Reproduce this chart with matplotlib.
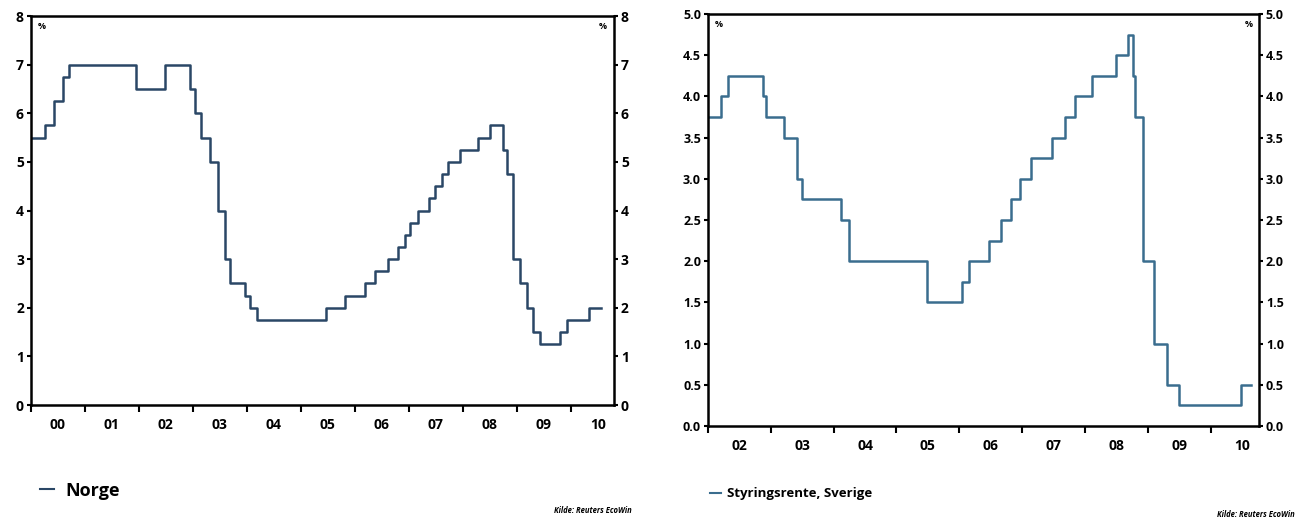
import matplotlib
matplotlib.use("Agg")
import matplotlib.pyplot as plt
from matplotlib.lines import Line2D
import numpy as np

plt.rcParams['font.family'] = ['Open Sans', 'DejaVu Sans']
plt.rcParams['font.weight'] = 'bold'

# Norway: policy rate, step starts (decimal year) and level
norge_start = [2000.00, 2000.26, 2000.43, 2000.59, 2000.70, 2001.94, 2002.48,
               2002.94, 2003.04, 2003.15, 2003.31, 2003.46, 2003.59, 2003.69,
               2003.96, 2004.06, 2004.19, 2005.46, 2005.81, 2006.19, 2006.37,
               2006.61, 2006.80, 2006.93, 2007.02, 2007.17, 2007.37, 2007.48,
               2007.61, 2007.72, 2007.94, 2008.28, 2008.50, 2008.74, 2008.81,
               2008.93, 2009.06, 2009.19, 2009.30, 2009.43, 2009.80, 2009.93,
               2010.33]
norge_rate = [5.5, 5.75, 6.25, 6.75, 7.0, 6.5, 7.0, 6.5, 6.0, 5.5, 5.0, 4.0,
              3.0, 2.5, 2.25, 2.0, 1.75, 2.0, 2.25, 2.5, 2.75, 3.0, 3.25, 3.5,
              3.75, 4.0, 4.25, 4.5, 4.75, 5.0, 5.25, 5.5, 5.75, 5.25, 4.75,
              3.0, 2.5, 2.0, 1.5, 1.25, 1.5, 1.75, 2.0]
norge_end = 2010.56

# Sweden: repo rate
sverige_start = [2002.00, 2002.21, 2002.32, 2002.88, 2002.93, 2003.21, 2003.42,
                 2003.50, 2004.11, 2004.25, 2005.48, 2006.05, 2006.15, 2006.47,
                 2006.67, 2006.83, 2006.96, 2007.14, 2007.47, 2007.69, 2007.85,
                 2008.12, 2008.49, 2008.68, 2008.76, 2008.79, 2008.92, 2009.10,
                 2009.30, 2009.50, 2010.48]
sverige_rate = [3.75, 4.0, 4.25, 4.0, 3.75, 3.5, 3.0, 2.75, 2.5, 2.0, 1.5,
                1.75, 2.0, 2.25, 2.5, 2.75, 3.0, 3.25, 3.5, 3.75, 4.0, 4.25,
                4.5, 4.75, 4.25, 3.75, 2.0, 1.0, 0.5, 0.25, 0.5]
sverige_end = 2010.64

norge_years = list(range(2000, 2011))
sverige_years = list(range(2002, 2011))

col_no = '#2a4766'
col_se = '#3a6d8e'

fig = plt.figure(figsize=(13, 5.21), dpi=100)
ax1 = fig.add_axes([0.0238, 0.2226, 0.4485, 0.7466])
ax2 = fig.add_axes([0.5446, 0.1823, 0.4238, 0.7908])


def style(ax, years, xmin, xmax, ymax, ystep, fmt, ysize):
    ax.set_xlim(xmin, xmax)
    ax.set_ylim(0, ymax)
    for s in ax.spines.values():
        s.set_linewidth(1.8)
    ax.set_xticks(years)
    ax.set_xticklabels([])
    ax.set_xticks([y + 0.5 for y in years], minor=True)
    ax.set_xticklabels(['%02d' % (y % 100) for y in years], minor=True)
    ax.tick_params(axis='x', which='major', length=5, width=1.5, direction='out')
    ax.tick_params(axis='x', which='minor', length=0, labelsize=10, pad=9)
    yt = np.arange(0, ymax + 0.001, ystep)
    ax.set_yticks(yt)
    ax.set_yticklabels([fmt % v for v in yt])
    ax.tick_params(axis='y', length=3, width=1.5, labelsize=ysize,
                   left=True, right=True, labelleft=True, labelright=True, pad=2)
    ax.text(0.012, 0.985, '%', transform=ax.transAxes, fontsize=6.5,
            va='top', ha='left')
    ax.text(0.988, 0.985, '%', transform=ax.transAxes, fontsize=6.5,
            va='top', ha='right')


ax1.step(norge_start + [norge_end], norge_rate + [norge_rate[-1]],
         where='post', color=col_no, lw=1.8)
style(ax1, norge_years, 2000.0, 2010.8, 8, 1, '%d', 10)

ax2.step(sverige_start + [sverige_end], sverige_rate + [sverige_rate[-1]],
         where='post', color=col_se, lw=1.8)
style(ax2, sverige_years, 2002.0, 2010.77, 5.0, 0.5, '%.1f', 9)

fig.legend([Line2D([], [], color=col_no, lw=1.5)], ['Norge'],
           loc='center left', bbox_to_anchor=(0.018, 0.058), frameon=False,
           fontsize=13, handlelength=0.8, handletextpad=0.6)
fig.legend([Line2D([], [], color=col_se, lw=1.5)], ['Styringsrente, Sverige'],
           loc='center left', bbox_to_anchor=(0.537, 0.052), frameon=False,
           fontsize=9.5, handlelength=0.8, handletextpad=0.5)

fig.text(0.486, 0.02, 'Kilde: Reuters EcoWin', fontsize=5.5, style='italic',
         ha='right', va='center')
fig.text(0.996, 0.013, 'Kilde: Reuters EcoWin', fontsize=5.5, style='italic',
         ha='right', va='center')

fig.savefig('out.png', dpi=100)
